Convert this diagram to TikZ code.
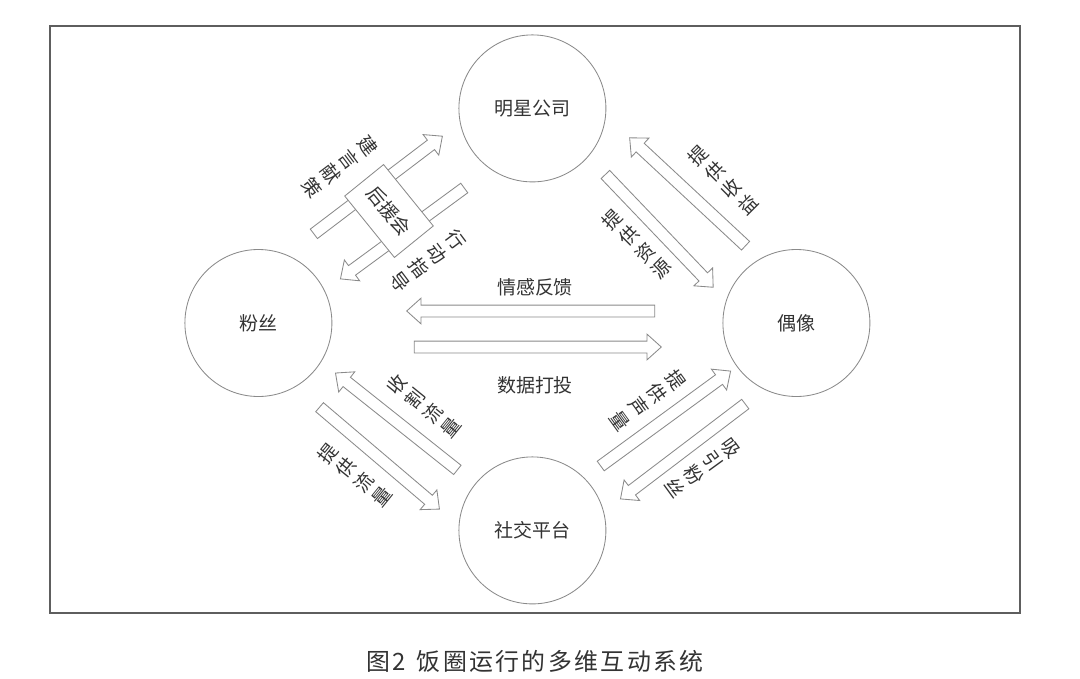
\documentclass[tikz,border=0pt]{standalone}
\usepackage{fontspec}
\setmainfont{Noto Sans CJK SC}
\newfontfamily\capfont[LetterSpace=10]{Noto Sans CJK SC}
\usepackage{xcolor}
\usepackage{tikz}
\usetikzlibrary{calc,shapes.arrows}
\definecolor{ink}{HTML}{333333}
\definecolor{framegray}{HTML}{5E5E5E}
\definecolor{linegray}{HTML}{8A8A8A}
\tikzset{
  hub/.style={circle,draw=linegray,line width=.6pt,minimum size=3.675cm,inner sep=0pt,text=ink,font=\fontsize{13.5}{16.5}\selectfont},
  fat/.style={single arrow,draw=linegray,fill=white,line width=.6pt,inner xsep=0pt,inner ysep=.1375cm,
    single arrow head extend=.175cm,single arrow tip angle=84,single arrow head indent=0pt},
  tag/.style={align=center,inner sep=0pt,text=ink,font=\fontsize{13.5}{16.5}\selectfont},
  clubbox/.style={draw=linegray,fill=white,line width=.6pt,minimum width=1.975cm,minimum height=1.25cm,
    inner sep=0pt,text=ink,font=\fontsize{13.5}{16.5}\selectfont},
}
\newcommand{\fatarrow}[2]{%
  \path let \p1=(#1), \p2=(#2), \n1={atan2(\y2-\y1,\x2-\x1)}, \n2={veclen(\x2-\x1,\y2-\y1)} in
    node[fat,rotate=\n1,minimum height=\n2] (#1-#2) at ($(#1)!.5!(#2)$) {};}

\begin{document}
\begin{tikzpicture}[x=1cm,y=1cm]
  \useasboundingbox (0,0) rectangle (27,-16.95);
  \draw[framegray,line width=1.1pt] (1.25,-.65) rectangle (25.5,-15.325);
  \node[hub] (gongsi) at (13.31,-2.71) {明星公司};
  \node[hub] (fensi) at (6.46,-8.075) {粉丝};
  \node[hub] (ouxiang) at (19.91,-8.075) {偶像};
  \node[hub] (pingtai) at (13.31,-13.26) {社交平台};
  \coordinate (jy1) at (7.775,-5.9);    \coordinate (jy2) at (11.0,-3.45);
  \coordinate (xd1) at (11.675,-4.65);  \coordinate (xd2) at (8.575,-6.925);
  \coordinate (sy1) at (18.7,-6.2);     \coordinate (sy2) at (15.8,-3.5);
  \coordinate (zy1) at (15.075,-4.3);   \coordinate (zy2) at (17.775,-7.125);
  \coordinate (qg1) at (16.45,-7.775);  \coordinate (qg2) at (10.25,-7.775);
  \coordinate (sj1) at (10.275,-8.675); \coordinate (sj2) at (16.45,-8.675);
  \coordinate (sg1) at (11.5,-11.8);    \coordinate (sg2) at (8.45,-9.375);
  \coordinate (tl1) at (7.925,-10.125); \coordinate (tl2) at (10.925,-12.675);
  \coordinate (sl1) at (14.95,-11.7);   \coordinate (sl2) at (18.2,-9.325);
  \coordinate (xf1) at (18.7,-10.05);   \coordinate (xf2) at (15.575,-12.425);
  \foreach \a in {jy,xd,sy,zy,qg,sj,sg,tl,sl,xf}
    {\fatarrow{\a1}{\a2}}
  \node[clubbox,rotate=-51] (houyuan) at (9.725,-5.275) {后援会};
  \node[tag,rotate=-53] (tjy) at (8.5,-4.175) {建\\言\\献\\策};
  \node[tag,rotate=-53] (txd) at (10.7,-6.525) {行\\动\\指\\导};
  \node[tag,rotate=45] (tsy) at (18.075,-4.5) {提\\供\\收\\益};
  \node[tag,rotate=45] (tzy) at (15.925,-6.1) {提\\供\\资\\源};
  \node[tag] (tqg) at (13.375,-7.175) {情感反馈};
  \node[tag] (tsj) at (13.375,-9.625) {数据打投};
  \node[tag,rotate=51] (tsg) at (10.6,-10.15) {收\\割\\流\\量};
  \node[tag,rotate=51] (ttl) at (8.875,-11.875) {提\\供\\流\\量};
  \node[tag,rotate=-54] (tsl) at (16.2,-10.0) {提\\供\\声\\量};
  \node[tag,rotate=-54] (txf) at (17.575,-11.7) {吸\\引\\粉\\丝};
  \node[text=ink,font=\capfont\fontsize{17}{20}\selectfont] (cap) at (13.375,-16.525) {图2\hspace{.45em}饭圈运行的多维互动系统};
\end{tikzpicture}
\end{document}
